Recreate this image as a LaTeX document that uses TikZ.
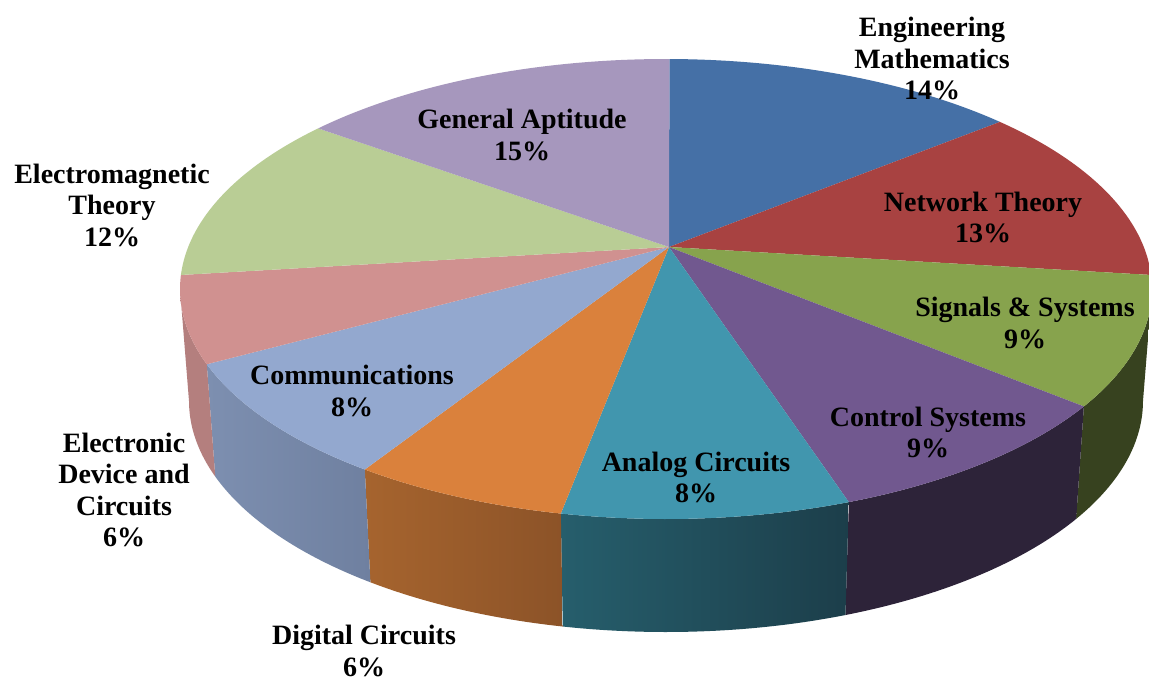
\documentclass[tikz,border=0pt]{standalone}
\usepackage{fontspec}
\setmainfont{Liberation Serif}
\definecolor{emc}{RGB}{69,112,166}
\definecolor{ntc}{RGB}{168,66,65}
\definecolor{ssc}{RGB}{135,163,77}
\definecolor{csc}{RGB}{113,88,143}
\definecolor{acc}{RGB}{65,150,174}
\definecolor{dcc}{RGB}{218,129,60}
\definecolor{cmc}{RGB}{147,168,207}
\definecolor{edc}{RGB}{208,145,144}
\definecolor{emtc}{RGB}{185,205,149}
\definecolor{gac}{RGB}{166,151,189}
\definecolor{ssside}{RGB}{55,66,31}
\definecolor{csside}{RGB}{45,35,57}
\definecolor{acsideA}{RGB}{38,94,108}
\definecolor{acsideB}{RGB}{28,62,74}
\definecolor{dcsideA}{RGB}{166,100,46}
\definecolor{dcsideB}{RGB}{140,83,40}
\definecolor{cmsideA}{RGB}{125,143,176}
\definecolor{cmsideB}{RGB}{111,128,160}
\definecolor{edside}{RGB}{180,127,126}
\def\cx{666}\def\cy{289}\def\rx{486}\def\ry{230}
\def\bx{666}\def\by{401}\def\brx{477}\def\bry{231}
\newcommand{\topslice}[3]{%
  \fill[#1] (ap) -- plot[domain=#2:#3,samples=60,variable=\t] ({\cx+\rx*cos(\t)},{\cy+\ry*sin(\t)}) -- cycle;}
\newcommand{\sideslice}[4]{%
  \shade[left color=#1,right color=#2] plot[domain=#3:#4,samples=40,variable=\t] ({\cx+\rx*cos(\t)},{\cy+\ry*sin(\t)})
    -- plot[domain=#4:#3,samples=40,variable=\t] ({\bx+\brx*cos(\t)},{\by+\bry*sin(\t)}) -- cycle;}
\tikzset{lbl/.style={align=center,inner sep=0pt,font=\fontsize{28}{31.5}\selectfont\bfseries,text=black}}
\begin{document}
\begin{tikzpicture}[x=1pt,y=-1pt]
\useasboundingbox (0,0) rectangle (1149,681);
\fill[white] (0,0) rectangle (1149,681);
\coordinate (ap) at (669,247);
% side walls
\sideslice{ssside}{ssside}{0}{30.7}
\sideslice{csside}{csside}{30.7}{67.9}
\sideslice{acsideA}{acsideB}{67.9}{102.5}
\sideslice{dcsideA}{dcsideB}{102.5}{128.3}
\sideslice{cmsideA}{cmsideB}{128.3}{160.9}
\sideslice{edside}{edside}{160.9}{180}
% top faces
\topslice{emc}{-89.6}{-46.6}
\topslice{ntc}{-46.6}{-3.5}
\topslice{ssc}{-3.5}{30.7}
\topslice{csc}{30.7}{67.9}
\topslice{acc}{67.9}{102.5}
\topslice{dcc}{102.5}{128.3}
\topslice{cmc}{128.3}{160.9}
\topslice{edc}{160.9}{183.5}
\topslice{emtc}{183.5}{224.3}
\topslice{gac}{224.3}{270.4}
% labels
\node[lbl] (lem) at (932,58.5) {Engineering\\Mathematics\\14\%};
\node[lbl] (lnt) at (983,217.5) {Network Theory\\13\%};
\node[lbl] (lss) at (1025,323) {Signals \& Systems\\9\%};
\node[lbl] (lcs) at (928,432.5) {Control Systems\\9\%};
\node[lbl] (lac) at (696,477.5) {Analog Circuits\\8\%};
\node[lbl] (ldc) at (364,651) {Digital Circuits\\6\%};
\node[lbl] (lcm) at (352,391) {Communications\\8\%};
\node[lbl] (led) at (124,490) {Electronic\\Device and\\Circuits\\6\%};
\node[lbl] (lemt) at (112,205) {Electromagnetic\\Theory\\12\%};
\node[lbl] (lga) at (522,135) {General Aptitude\\15\%};
\end{tikzpicture}
\end{document}
